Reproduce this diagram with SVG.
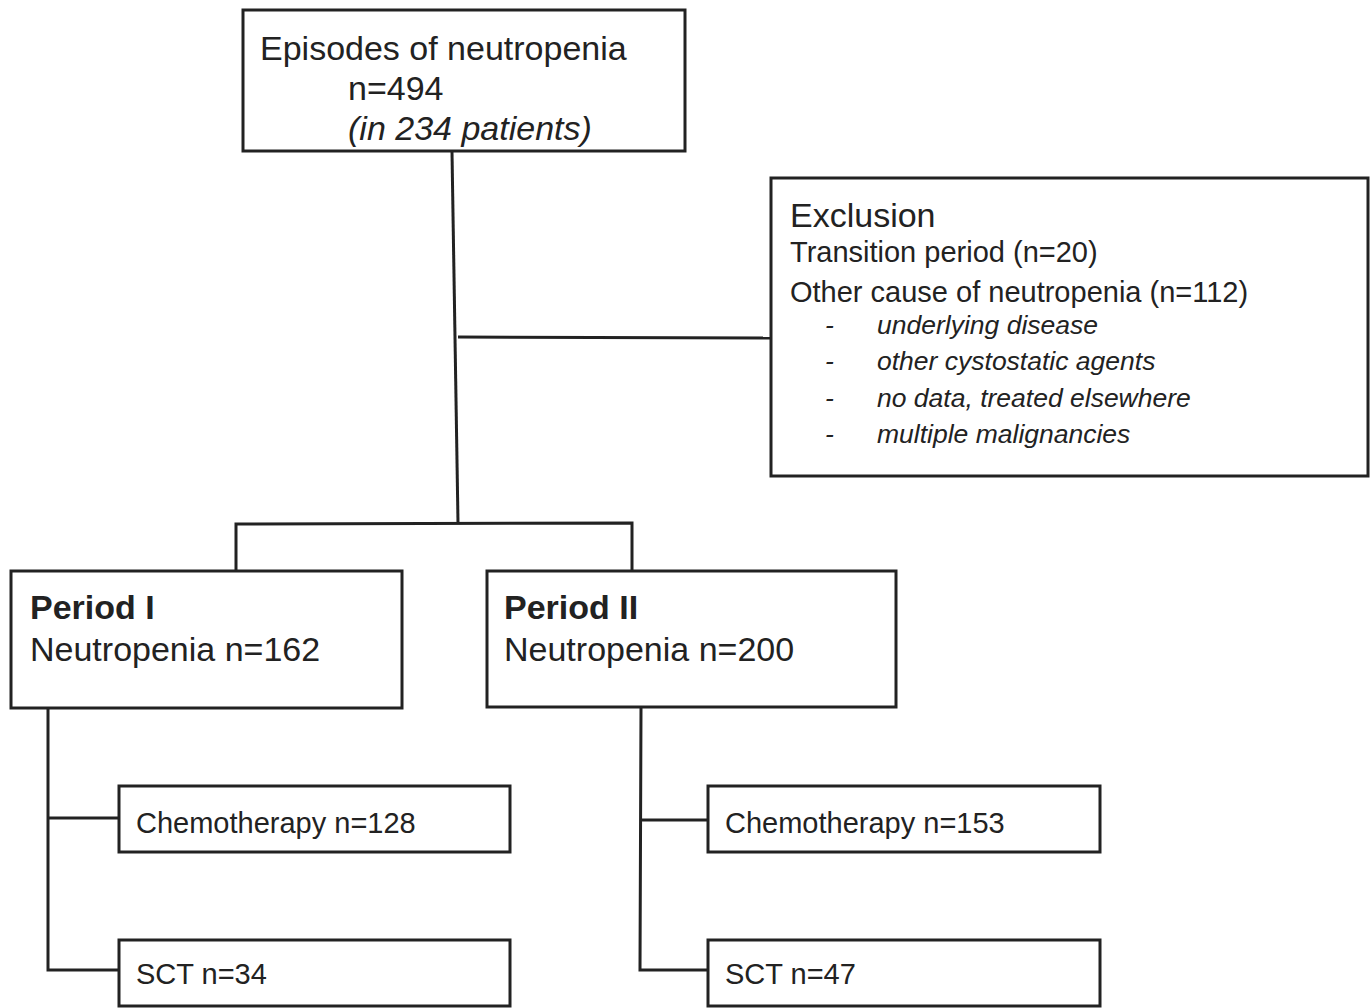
<svg xmlns="http://www.w3.org/2000/svg" width="1372" height="1008" viewBox="0 0 1372 1008">
<style>
.box{fill:#fff;stroke:#222;stroke-width:3}
.ln{fill:none;stroke:#222;stroke-width:3}
text{font-family:"Liberation Sans",Arial,sans-serif;fill:#222}
.t1{font-size:34px}
.t2{font-size:29px}
.it{font-style:italic}
.bd{font-weight:bold}
.li{font-size:26.5px;font-style:italic}
</style>
<rect width="1372" height="1008" fill="#fff"/>
<g id="connectors">
<polyline class="ln" points="452,152 458,523"/>
<line class="ln" x1="458" y1="337" x2="771" y2="338"/>
<polyline class="ln" points="236,571 236,524 632,523 632,571"/>
<polyline class="ln" points="48,708 48,970 119,970"/>
<line class="ln" x1="48" y1="818" x2="119" y2="818"/>
<polyline class="ln" points="641,708 640,970 708,970"/>
<line class="ln" x1="641" y1="820" x2="708" y2="820"/>
</g>
<g id="episodes">
<rect class="box" x="243" y="10" width="442" height="141"/>
<text class="t1" x="260" y="60">Episodes of neutropenia</text>
<text class="t1" x="348" y="100">n=494</text>
<text class="t1 it" x="348" y="140">(in 234 patients)</text>
</g>
<g id="exclusion">
<rect class="box" x="771" y="178" width="597" height="298"/>
<text class="t1" x="790" y="227">Exclusion</text>
<text class="t2" x="790" y="262">Transition period (n=20)</text>
<text class="t2" x="790" y="302">Other cause of neutropenia (n=112)</text>
<text class="li" x="825" y="334">-</text><text class="li" x="877" y="334">underlying disease</text>
<text class="li" x="825" y="370">-</text><text class="li" x="877" y="370">other cystostatic agents</text>
<text class="li" x="825" y="407">-</text><text class="li" x="877" y="407">no data, treated elsewhere</text>
<text class="li" x="825" y="443">-</text><text class="li" x="877" y="443">multiple malignancies</text>
</g>
<g id="period1">
<rect class="box" x="11" y="571" width="391" height="137"/>
<text class="t1 bd" x="30" y="619">Period I</text>
<text class="t1" x="30" y="661">Neutropenia n=162</text>
</g>
<g id="period2">
<rect class="box" x="487" y="571" width="409" height="136"/>
<text class="t1 bd" x="504" y="619">Period II</text>
<text class="t1" x="504" y="661">Neutropenia n=200</text>
</g>
<g id="chemo1">
<rect class="box" x="119" y="786" width="391" height="66"/>
<text class="t2" x="136" y="833">Chemotherapy n=128</text>
</g>
<g id="sct1">
<rect class="box" x="119" y="940" width="391" height="66"/>
<text class="t2" x="136" y="984">SCT n=34</text>
</g>
<g id="chemo2">
<rect class="box" x="708" y="786" width="392" height="66"/>
<text class="t2" x="725" y="833">Chemotherapy n=153</text>
</g>
<g id="sct2">
<rect class="box" x="708" y="940" width="392" height="66"/>
<text class="t2" x="725" y="984">SCT n=47</text>
</g>
</svg>
